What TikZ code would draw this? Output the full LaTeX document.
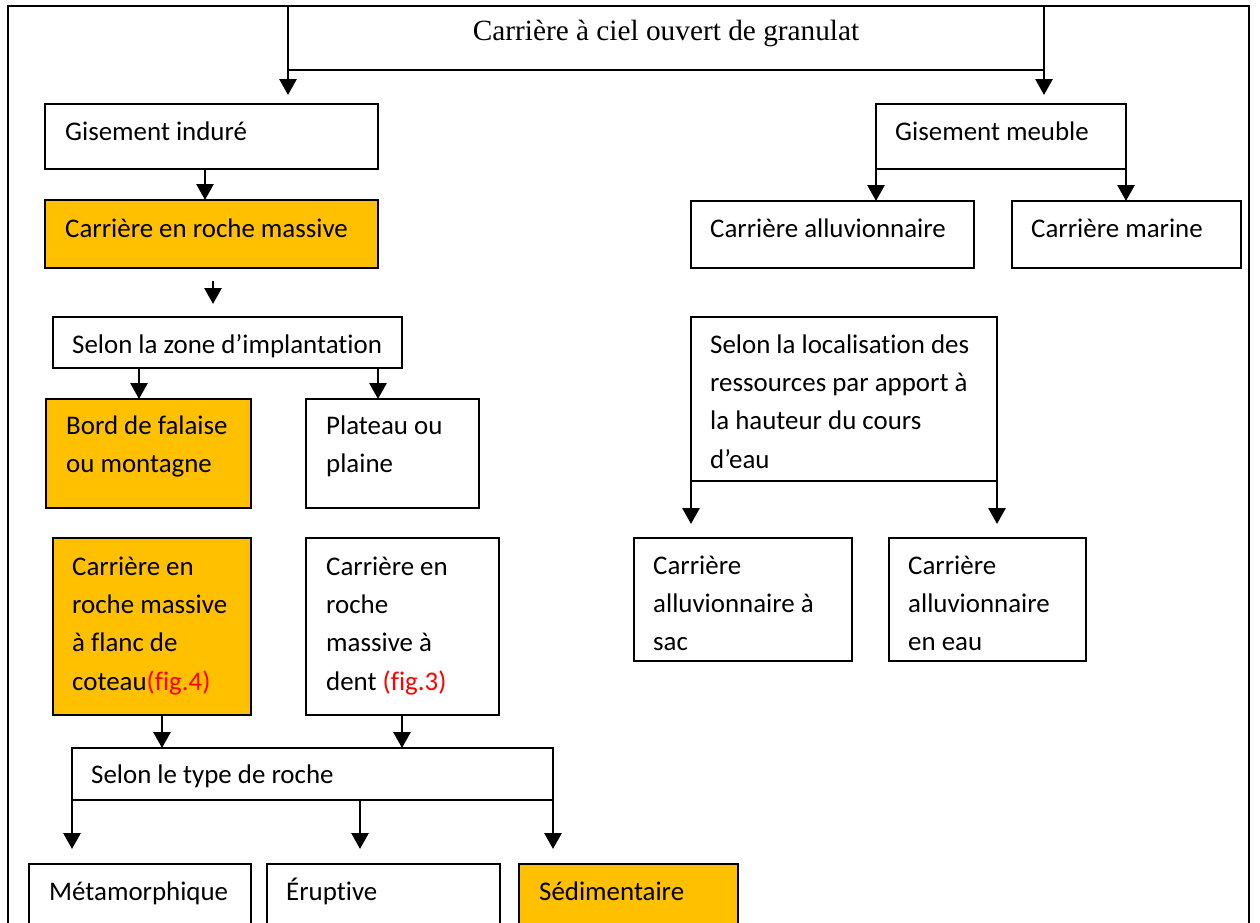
\documentclass[tikz,border=0pt]{standalone}
\usepackage{fontspec}
\setmainfont{Carlito}[Ligatures={NoCommon}]
\newfontfamily\titlefont{Liberation Serif}
\usetikzlibrary{arrows.meta}
\definecolor{orangebox}{HTML}{FFC000}
\newcommand\mylines[1]{\parbox[t]{320pt}{\raggedright\fontsize{26.9}{38.4}\selectfont #1}}
\begin{document}
\begin{tikzpicture}[x=1pt,y=-1pt,
  bx/.style={draw, line width=1.5pt, anchor=north west, inner sep=0pt, outer sep=0pt},
  hot/.style={bx, fill=orangebox},
  txt/.style={anchor=base west, inner sep=0pt, font=\fontsize{26.9}{38.4}\selectfont},
  arr/.style={line width=2.8pt, -{Triangle[width=17pt,length=16pt]}},
  frame/.style={line width=1.7pt}]
\clip (0,0) rectangle (1260,922);
\fill[white] (0,0) rectangle (1260,922);
% outer frame
\draw[frame] (8,940) -- (8,6) -- (1249,6) -- (1249,940);
% boxes
\node[bx, minimum width=756pt, minimum height=64pt] (title) at (288,6) {};
\node[bx, minimum width=333pt, minimum height=65pt] (gi) at (45,104) {};
\node[hot, minimum width=333pt, minimum height=68pt] (crm) at (45,200) {};
\node[bx, minimum width=349pt, minimum height=51pt] (sz) at (53,317) {};
\node[hot, minimum width=205pt, minimum height=109pt] (bord) at (46,399) {};
\node[bx, minimum width=173pt, minimum height=109pt] (plat) at (306,399) {};
\node[hot, minimum width=198pt, minimum height=177pt] (f4) at (53,538) {};
\node[bx, minimum width=193pt, minimum height=177pt] (f3) at (306,538) {};
\node[bx, minimum width=481pt, minimum height=52pt] (st) at (72,748) {};
\node[bx, minimum width=222pt, minimum height=80pt] (meta) at (29,864) {};
\node[bx, minimum width=233pt, minimum height=80pt] (eru) at (267,864) {};
\node[hot, minimum width=219pt, minimum height=80pt] (sed) at (519,864) {};
\node[bx, minimum width=250pt, minimum height=65pt] (gm) at (876,104) {};
\node[bx, minimum width=283pt, minimum height=67pt] (ca) at (691,201) {};
\node[bx, minimum width=229pt, minimum height=67pt] (cm) at (1012,201) {};
\node[bx, minimum width=306pt, minimum height=164pt] (sl) at (691,317) {};
\node[bx, minimum width=218pt, minimum height=123pt] (sac) at (634,538) {};
\node[bx, minimum width=197pt, minimum height=123pt] (eau) at (889,538) {};
% texts
\node[anchor=base, inner sep=0pt, font=\titlefont\fontsize{29.3}{34}\selectfont] (title-t) at (666,40) {Carrière à ciel ouvert de granulat};
\node[txt] (gi-t) at (65,140) {Gisement induré};
\node[txt] (crm-t) at (65,237) {Carrière en roche massive};
\node[txt] (sz-t) at (72,353) {Selon la zone d’implantation};
\node[txt] (bord-t) at (66,434) {\mylines{Bord de falaise\\ou montagne}};
\node[txt] (plat-t) at (326,434) {\mylines{Plateau ou\\plaine}};
\node[txt] (f4-t) at (72,575) {\mylines{Carrière en\\roche massive\\à flanc de\\coteau\textcolor{red}{(fig.4)}}};
\node[txt] (f3-t) at (326,575) {\mylines{Carrière en\\roche\\massive à\\dent \textcolor{red}{(fig.3)}}};
\node[txt] (st-t) at (91,783) {Selon le type de roche};
\node[txt] (meta-t) at (49,900) {Métamorphique};
\node[txt] (eru-t) at (286,900) {Éruptive};
\node[txt] (sed-t) at (539,900) {Sédimentaire};
\node[txt] (gm-t) at (895,140) {Gisement meuble};
\node[txt] (ca-t) at (710,237) {Carrière alluvionnaire};
\node[txt] (cm-t) at (1031,237) {Carrière marine};
\node[txt] (sl-t) at (710,353) {\mylines{Selon la localisation des\\ressources par apport à\\la hauteur du cours\\d’eau}};
\node[txt] (sac-t) at (653,574) {\mylines{Carrière\\alluvionnaire à\\sac}};
\node[txt] (eau-t) at (908,574) {\mylines{Carrière\\alluvionnaire\\en eau}};
% connectors
\draw[arr, shorten >=9pt] (title.south west) -- (title.south west |- gi.north);
\draw[arr, shorten >=9pt] (title.south east) -- (title.south east |- gm.north);
\draw[arr] (gi.south -| 205,0) -- (crm.north -| 205,0);
\draw[arr, shorten <=13pt, shorten >=13pt] (crm.south -| 213,0) -- (sz.north -| 213,0);
\draw[arr] (sz.south -| 139,0) -- (bord.north -| 139,0);
\draw[arr] (sz.south -| 378,0) -- (plat.north -| 378,0);
\draw[arr] (f4.south -| 162,0) -- (st.north -| 162,0);
\draw[arr] (f3.south -| 402,0) -- (st.north -| 402,0);
\draw[arr, shorten >=15pt] (st.south west) -- (st.south west |- meta.north);
\draw[arr, shorten >=15pt] (st.south -| 360,0) -- (eru.north -| 360,0);
\draw[arr, shorten >=15pt] (st.south east) -- (st.south east |- sed.north);
\draw[arr] (gm.south west) -- (gm.south west |- ca.north);
\draw[arr] (gm.south east) -- (gm.south east |- cm.north);
\draw[arr, shorten >=14pt] (sl.south west) -- (sl.south west |- sac.north);
\draw[arr, shorten >=14pt] (sl.south east) -- (sl.south east |- eau.north);
\end{tikzpicture}
\end{document}
